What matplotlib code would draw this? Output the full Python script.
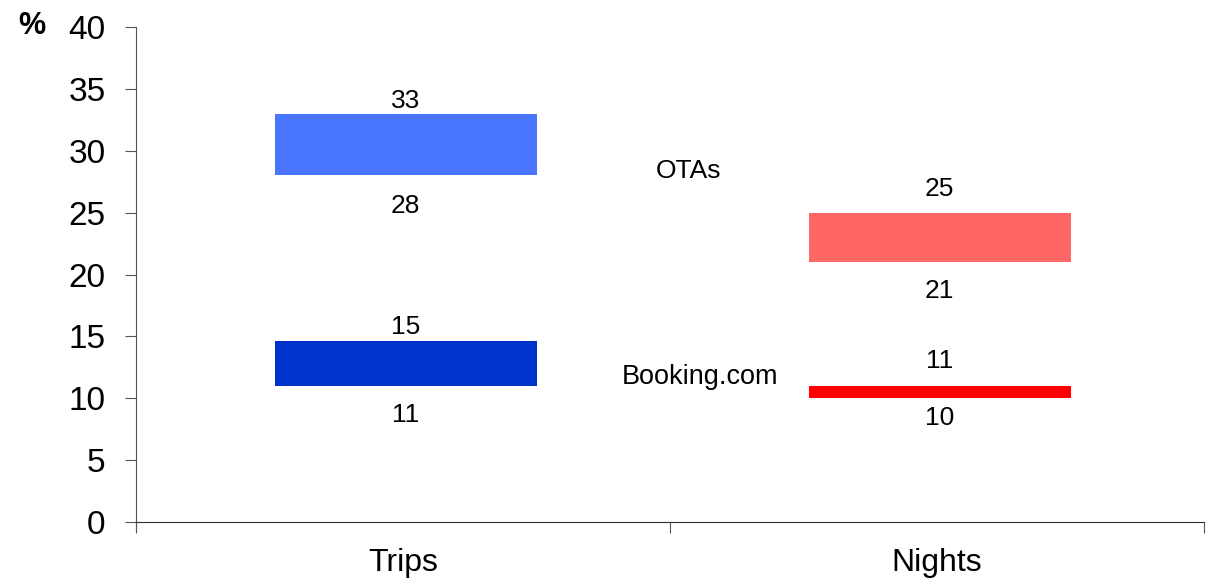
import numpy as np
import matplotlib.pyplot as plt

plt.rcParams['font.family'] = ['Liberation Sans', 'DejaVu Sans']

# ---- data ----
categories = ["Trips", "Nights"]
ota_low = [28, 21]
ota_high = [33, 25]
booking_low = [11, 10]
booking_high = [14.6, 11]
ota_lbl_low = ["28", "21"]
ota_lbl_high = ["33", "25"]
bk_lbl_low = ["11", "10"]
bk_lbl_high = ["15", "11"]
ota_colors = ["#4A76FF", "#FF6666"]
bk_colors = ["#0033CC", "#FF0000"]

fig = plt.figure(figsize=(12.09, 5.79), dpi=100)
ax = fig.add_axes([0.1125, 0.0984, 0.8834, 0.855])

x = np.arange(len(categories)) + 0.505
w = 0.49

ax.bar(x, np.array(ota_high) - np.array(ota_low), bottom=ota_low, width=w, color=ota_colors)
ax.bar(x, np.array(booking_high) - np.array(booking_low), bottom=booking_low, width=w, color=bk_colors)

# value labels (offsets in points)
up_ota = [9, 17]
dn_ota = [22, 21]
up_bk = [10, 18]
dn_bk = [21, 14]
for i in range(len(categories)):
    ax.annotate(ota_lbl_high[i], (x[i], ota_high[i]), xytext=(0, up_ota[i]), textcoords="offset points",
                ha="center", va="center", fontsize=19)
    ax.annotate(ota_lbl_low[i], (x[i], ota_low[i]), xytext=(0, -dn_ota[i]), textcoords="offset points",
                ha="center", va="center", fontsize=19)
    ax.annotate(bk_lbl_high[i], (x[i], booking_high[i]), xytext=(0, up_bk[i]), textcoords="offset points",
                ha="center", va="center", fontsize=19)
    ax.annotate(bk_lbl_low[i], (x[i], booking_low[i]), xytext=(0, -dn_bk[i]), textcoords="offset points",
                ha="center", va="center", fontsize=19)

ax.text(1.034, 28.4, "OTAs", ha="center", va="center", fontsize=19)
ax.text(1.056, 11.7, "Booking.com", ha="center", va="center", fontsize=19.5)

ax.set_xlim(0, 2)
ax.set_ylim(0, 40)
ax.set_yticks(np.arange(0, 41, 5))
ax.tick_params(axis="y", labelsize=24, length=8, direction="out", color="#555555", pad=14)
ax.set_xticks([0, 1, 2])
ax.set_xticklabels(["", "", ""])
ax.set_xticks([0.5, 1.5], minor=True)
ax.set_xticklabels(categories, minor=True)
ax.tick_params(axis="x", which="major", length=8, direction="out", color="#555555")
ax.tick_params(axis="x", which="minor", length=0, labelsize=23, pad=19)

for s in ["top", "right"]:
    ax.spines[s].set_visible(False)
ax.spines["left"].set_color("#555555")
ax.spines["bottom"].set_color("#333333")
ax.spines["left"].set_bounds(-0.6, 40)

fig.text(0.026, 0.955, "%", fontsize=22, fontweight="bold", ha="center", va="center")

fig.savefig("out.png", dpi=100)
